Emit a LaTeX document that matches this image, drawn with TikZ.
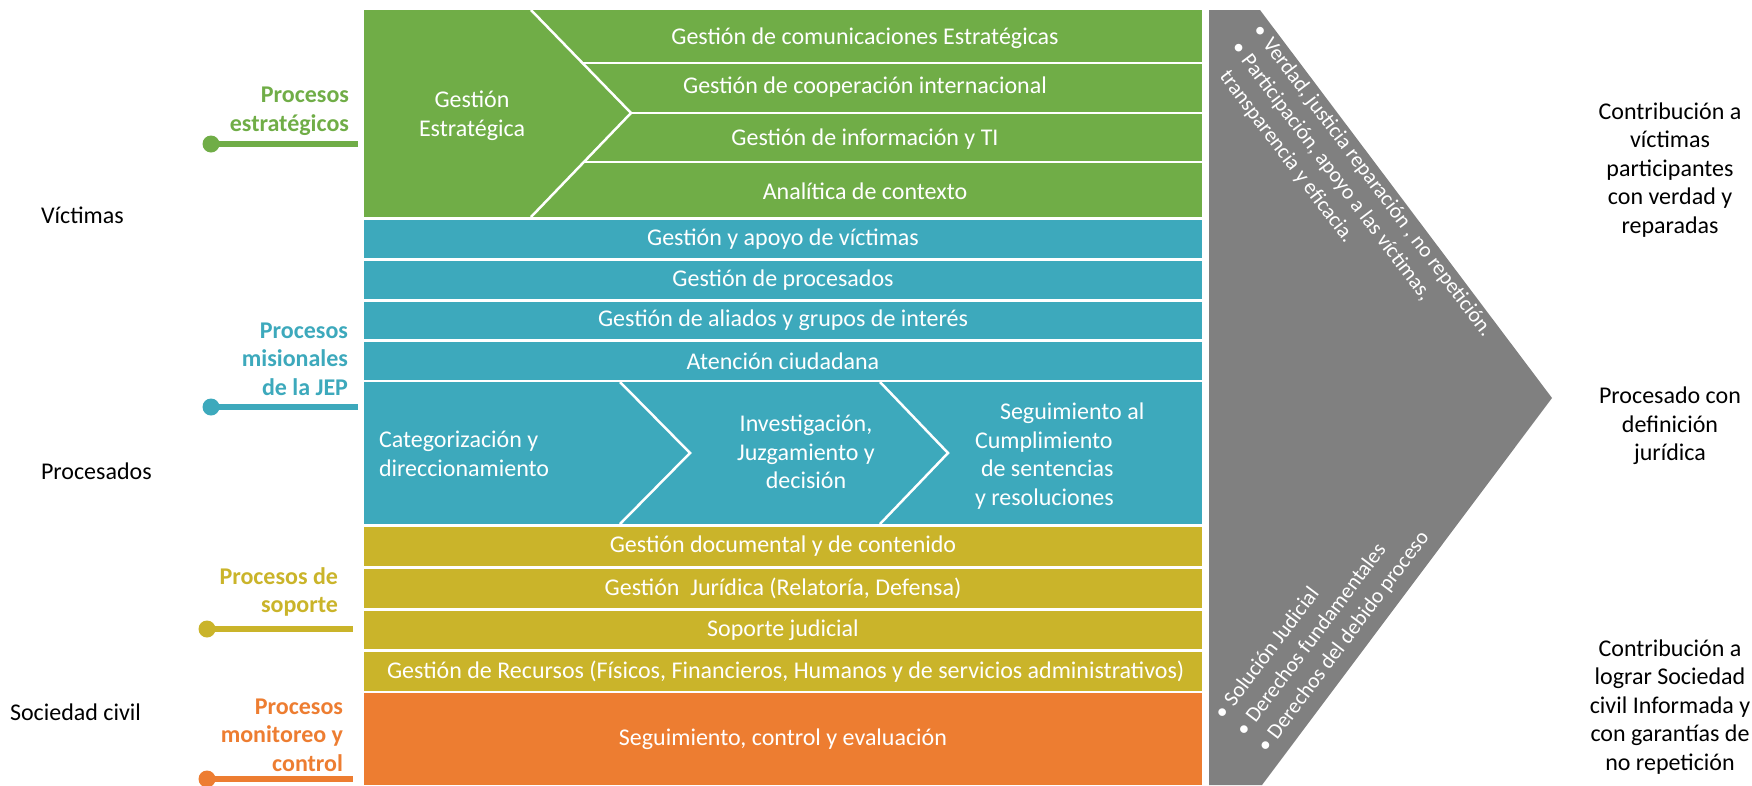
\documentclass[tikz,border=0pt]{standalone}
\usepackage{fontspec}
\setmainfont{Carlito}
\definecolor{cgreen}{HTML}{70AD47}
\definecolor{cteal}{HTML}{3DA9BC}
\definecolor{cyellow}{HTML}{CAB42A}
\definecolor{corange}{HTML}{ED7D31}
\definecolor{cgray}{HTML}{808080}
\begin{document}
\begin{tikzpicture}[x=1pt,y=-1pt,
  every node/.style={inner sep=0pt, outer sep=0pt},
  txt/.style={font=\fontsize{24}{28.5}\selectfont},
  boxtxt/.style={txt, text=white},
  row/.style={boxtxt, fill=#1, minimum width=838pt},
  divider/.style={white, line width=2.5pt},
  grplbl/.style={font=\bfseries\fontsize{24}{28.5}\selectfont, align=right, anchor=east, text=#1},
  dotnode/.style={circle, fill=#1, minimum size=17pt},
  leader/.style={draw=#1, line width=6pt},
  graytxt/.style={text=white, font=\fontsize{21.5}{27}\selectfont, align=left, anchor=north west},
  outcome/.style={txt, align=center},
]
\useasboundingbox (0,0) rectangle (1752,785);

% ---------- strategic (green) ----------
\fill[cgreen] (364,10) rectangle (1202,217);
\draw[divider] (531,10) -- (631,113) -- (531,217);
\draw[divider] (582.5,63) -- (1202,63);
\draw[divider] (631,113) -- (1202,113);
\draw[divider] (584,162) -- (1202,162);
\node[boxtxt, align=center] (ge) at (472,116) {Gestión\\Estratégica};
\node[boxtxt] (g1) at (865,38) {Gestión de comunicaciones Estratégicas};
\node[boxtxt] (g2) at (865,87) {Gestión de cooperación internacional};
\node[boxtxt] (g3) at (865,139) {Gestión de información y TI};
\node[boxtxt] (g4) at (865,191) {Analítica de contexto};

% ---------- missional (teal) ----------
\node[row=cteal, minimum height=38pt] (t1) at (783,239) {Gestión y apoyo de víctimas};
\node[row=cteal, minimum height=38pt] (t2) at (783,280) {Gestión de procesados};
\node[row=cteal, minimum height=37pt] (t3) at (783,320.5) {Gestión de aliados y grupos de interés};
\node[row=cteal, minimum height=38pt] (t4) at (783,361) {Atención ciudadana};
\fill[cteal] (364,382) rectangle (1202,524);
\draw[divider] (620,382) -- (690,453) -- (620,524);
\draw[divider] (880,382) -- (948,453) -- (880,524);
\node[boxtxt, align=left, anchor=west] (m1) at (379,454) {Categorización y\\direccionamiento};
\node[boxtxt, align=center] (m2) at (806,452) {Investigación,\\Juzgamiento y\\decisión};
\node[boxtxt, align=left, anchor=west] (m3) at (975,456) {\hspace*{25pt}Seguimiento al\\Cumplimiento\\\hspace*{6pt}de sentencias\\y resoluciones};

% ---------- support (yellow) ----------
\node[row=cyellow, minimum height=39pt] (y1) at (783,546.5) {Gestión documental y de contenido};
\node[row=cyellow, minimum height=39pt] (y2) at (783,588.5) {Gestión\ \ Jurídica (Relatoría, Defensa)};
\node[row=cyellow, minimum height=38pt] (y3) at (783,630) {Soporte judicial};
\node[row=cyellow, minimum height=39pt] (y4) at (783,671.5) {\ Gestión de Recursos (Físicos, Financieros, Humanos y de servicios administrativos)};

% ---------- monitoring (orange) ----------
\node[row=corange, minimum height=92pt] (o1) at (783,739) {Seguimiento, control y evaluación};

% ---------- gray chevron ----------
\fill[cgray] (1209,10) -- (1260,10) -- (1552,398) -- (1262,785) -- (1209,785) -- cycle;
\node[graytxt, rotate=-53] (gv) at (1264,22)
  {\textbullet\hspace{6pt}Verdad, justicia reparación , no repetición.\\
   \textbullet\hspace{6pt}Participación, apoyo a las víctimas,\\
   \hphantom{\textbullet\hspace{6pt}}transparencia y eficacia.};
\node[graytxt, rotate=53] (gs) at (1212,712)
  {\textbullet\hspace{6pt}Solución Judicial\\
   \textbullet\hspace{6pt}Derechos fundamentales\\
   \textbullet\hspace{6pt}Derechos del debido proceso};

% ---------- left group labels ----------
\node[grplbl=cgreen] (lg) at (349,111) {Procesos\\estratégicos};
\node[dotnode=cgreen] (dg) at (211,144) {};
\coordinate (eg) at (358,144);
\draw[leader=cgreen] (dg.center) -- (eg);

\node[grplbl=cteal] (lt) at (348,359) {Procesos\\misionales\\de la JEP};
\node[dotnode=cteal] (dt) at (211,407) {};
\coordinate (et) at (358,407);
\draw[leader=cteal] (dt.center) -- (et);

\node[grplbl=cyellow] (ly) at (338,592) {Procesos de\\soporte};
\node[dotnode=cyellow] (dy) at (207,629) {};
\coordinate (ey) at (353,629);
\draw[leader=cyellow] (dy.center) -- (ey);

\node[grplbl=corange] (lo) at (343,735) {Procesos\\monitoreo y\\control};
\node[dotnode=corange] (do) at (207,779) {};
\coordinate (eo) at (353,779);
\draw[leader=corange] (do.center) -- (eo);

% ---------- stakeholders ----------
\node[txt, anchor=west] (sv) at (41,215) {Víctimas};
\node[txt, anchor=west] (sp) at (41,471) {Procesados};
\node[txt, anchor=west] (ss) at (10,712) {Sociedad civil};

% ---------- outcomes ----------
\node[outcome] (r1) at (1670,170) {Contribución a\\víctimas\\participantes\\con verdad y\\reparadas};
\node[outcome] (r2) at (1670,426) {Procesado con\\definición\\jurídica};
\node[outcome] (r3) at (1670,707) {Contribución a\\lograr Sociedad\\civil Informada y\\con garantías de\\no repetición};
\end{tikzpicture}
\end{document}
